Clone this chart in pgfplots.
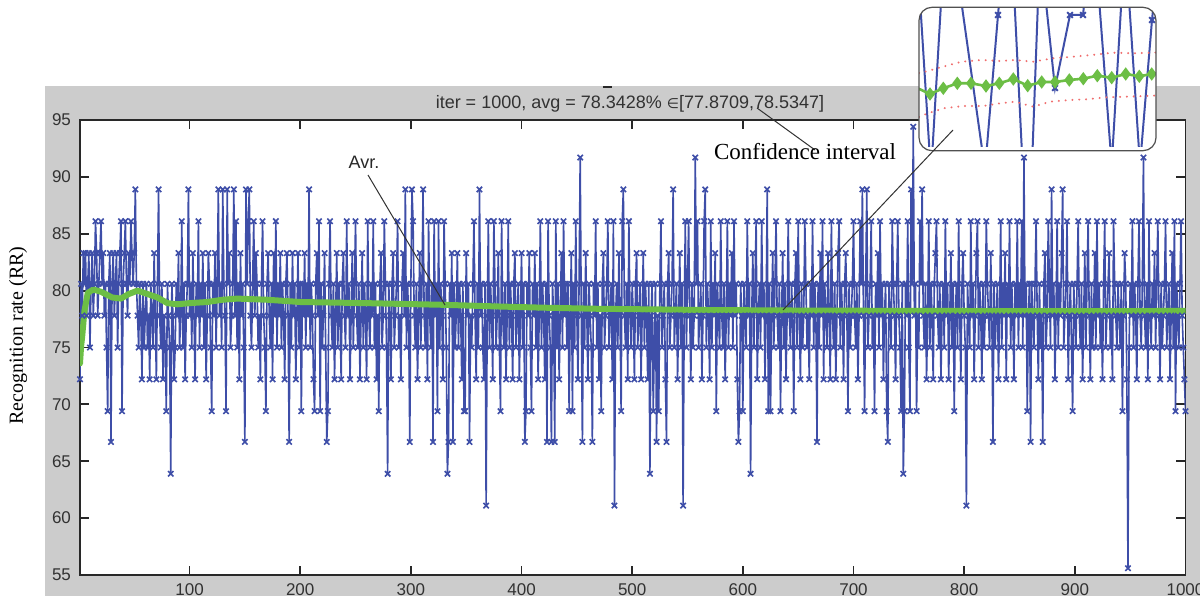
\documentclass[border=0pt]{standalone}
\usepackage{pgfplots}
\pgfplotsset{compat=1.18}
\usepackage{pgfplotstable}
\usepackage{fontspec}
\setmainfont{Liberation Sans}
\newfontfamily\timesfont{Liberation Serif}
\newfontfamily\dejavu{DejaVu Sans}
\definecolor{blueline}{RGB}{62,78,168}
\definecolor{greenline}{RGB}{108,190,69}
\definecolor{redline}{RGB}{240,110,110}
\definecolor{figgray}{RGB}{204,204,204}
\definecolor{axisgray}{RGB}{40,40,40}
\definecolor{ticktext}{RGB}{50,50,50}
\definecolor{annot}{RGB}{50,50,50}
\definecolor{insetborder}{RGB}{80,80,80}

\pgfplotstableread[row sep=\\]{
y\\
72.2\\80.6\\77.8\\83.3\\80.6\\83.3\\77.8\\80.6\\83.3\\75.0\\80.6\\83.3\\77.8\\80.6\\86.1\\83.3\\77.8\\80.6\\83.3\\86.1\\
80.6\\83.3\\77.8\\80.6\\75.0\\69.4\\80.6\\83.3\\66.7\\80.6\\83.3\\77.8\\80.6\\83.3\\75.0\\80.6\\83.3\\86.1\\69.4\\80.6\\
83.3\\86.1\\80.6\\77.8\\83.3\\80.6\\86.1\\83.3\\80.6\\83.3\\88.9\\80.6\\77.8\\75.0\\80.6\\77.8\\72.2\\80.6\\75.0\\77.8\\
80.6\\75.0\\77.8\\72.2\\80.6\\77.8\\75.0\\83.3\\77.8\\72.2\\80.6\\88.9\\77.8\\75.0\\80.6\\72.2\\77.8\\75.0\\69.4\\80.6\\
77.8\\75.0\\63.9\\80.6\\77.8\\72.2\\75.0\\80.6\\77.8\\83.3\\75.0\\77.8\\86.1\\75.0\\80.6\\72.2\\77.8\\80.6\\88.9\\77.8\\
80.6\\75.0\\83.3\\77.8\\72.2\\80.6\\77.8\\86.1\\75.0\\80.6\\77.8\\83.3\\75.0\\80.6\\72.2\\77.8\\83.3\\80.6\\75.0\\69.4\\
80.6\\77.8\\83.3\\75.0\\80.6\\88.9\\77.8\\80.6\\75.0\\88.9\\80.6\\77.8\\69.4\\88.9\\80.6\\83.3\\75.0\\77.8\\80.6\\88.9\\
77.8\\86.1\\75.0\\80.6\\72.2\\83.3\\77.8\\80.6\\75.0\\66.7\\88.9\\80.6\\86.1\\88.9\\77.8\\75.0\\80.6\\86.1\\77.8\\83.3\\
80.6\\75.0\\77.8\\72.2\\80.6\\86.1\\77.8\\75.0\\69.4\\80.6\\83.3\\77.8\\75.0\\80.6\\72.2\\83.3\\77.8\\86.1\\75.0\\80.6\\
77.8\\83.3\\75.0\\80.6\\77.8\\72.2\\80.6\\83.3\\77.8\\66.7\\80.6\\75.0\\83.3\\77.8\\80.6\\72.2\\77.8\\83.3\\75.0\\80.6\\
69.4\\80.6\\77.8\\83.3\\75.0\\80.6\\77.8\\88.9\\75.0\\80.6\\77.8\\72.2\\69.4\\80.6\\83.3\\77.8\\86.1\\69.4\\80.6\\75.0\\
77.8\\83.3\\75.0\\66.7\\69.4\\80.6\\86.1\\77.8\\75.0\\80.6\\72.2\\77.8\\83.3\\75.0\\80.6\\77.8\\72.2\\80.6\\83.3\\77.8\\
75.0\\86.1\\77.8\\80.6\\72.2\\77.8\\83.3\\75.0\\80.6\\86.1\\77.8\\75.0\\80.6\\72.2\\77.8\\83.3\\75.0\\80.6\\77.8\\72.2\\
86.1\\77.8\\75.0\\80.6\\77.8\\86.1\\75.0\\80.6\\72.2\\77.8\\69.4\\80.6\\83.3\\75.0\\77.8\\86.1\\80.6\\75.0\\63.9\\80.6\\
77.8\\72.2\\80.6\\83.3\\75.0\\77.8\\80.6\\86.1\\75.0\\77.8\\72.2\\80.6\\83.3\\77.8\\88.9\\75.0\\80.6\\77.8\\66.7\\80.6\\
88.9\\86.1\\77.8\\75.0\\80.6\\72.2\\77.8\\83.3\\75.0\\80.6\\88.9\\77.8\\75.0\\80.6\\72.2\\86.1\\77.8\\75.0\\80.6\\66.7\\
86.1\\77.8\\80.6\\69.4\\86.1\\75.0\\80.6\\77.8\\72.2\\86.1\\80.6\\75.0\\63.9\\66.7\\80.6\\77.8\\83.3\\66.7\\80.6\\75.0\\
77.8\\83.3\\75.0\\80.6\\77.8\\72.2\\80.6\\69.4\\69.4\\83.3\\77.8\\80.6\\66.7\\77.8\\75.0\\80.6\\86.1\\77.8\\72.2\\80.6\\
75.0\\88.9\\77.8\\80.6\\75.0\\72.2\\80.6\\61.1\\77.8\\86.1\\75.0\\80.6\\77.8\\72.2\\86.1\\80.6\\75.0\\77.8\\83.3\\75.0\\
69.4\\86.1\\77.8\\75.0\\80.6\\72.2\\77.8\\86.1\\75.0\\80.6\\77.8\\72.2\\80.6\\83.3\\75.0\\77.8\\80.6\\72.2\\77.8\\83.3\\
75.0\\80.6\\66.7\\69.4\\80.6\\77.8\\83.3\\75.0\\69.4\\80.6\\77.8\\83.3\\75.0\\80.6\\72.2\\77.8\\86.1\\75.0\\80.6\\77.8\\
72.2\\80.6\\66.7\\86.1\\77.8\\75.0\\66.7\\80.6\\77.8\\66.7\\86.1\\75.0\\80.6\\72.2\\77.8\\83.3\\75.0\\86.1\\77.8\\80.6\\
75.0\\80.6\\69.4\\77.8\\83.3\\69.4\\80.6\\75.0\\86.1\\77.8\\72.2\\80.6\\91.7\\77.8\\66.7\\80.6\\75.0\\83.3\\77.8\\72.2\\
80.6\\77.8\\75.0\\66.7\\80.6\\77.8\\86.1\\75.0\\80.6\\72.2\\77.8\\69.4\\80.6\\83.3\\75.0\\77.8\\80.6\\86.1\\75.0\\77.8\\
80.6\\72.2\\86.1\\61.1\\77.8\\80.6\\75.0\\83.3\\77.8\\69.4\\86.1\\88.9\\77.8\\75.0\\80.6\\72.2\\86.1\\77.8\\75.0\\80.6\\
77.8\\72.2\\80.6\\83.3\\75.0\\77.8\\80.6\\72.2\\77.8\\83.3\\75.0\\80.6\\77.8\\72.2\\80.6\\63.9\\77.8\\80.6\\69.4\\75.0\\
80.6\\66.7\\77.8\\69.4\\80.6\\86.1\\75.0\\77.8\\80.6\\72.2\\66.7\\80.6\\83.3\\75.0\\77.8\\80.6\\88.9\\75.0\\77.8\\80.6\\
72.2\\77.8\\83.3\\75.0\\80.6\\61.1\\77.8\\86.1\\75.0\\80.6\\86.1\\77.8\\72.2\\80.6\\75.0\\77.8\\91.7\\80.6\\86.1\\75.0\\
77.8\\80.6\\72.2\\77.8\\86.1\\88.9\\75.0\\80.6\\77.8\\72.2\\86.1\\75.0\\80.6\\77.8\\83.3\\69.4\\80.6\\77.8\\75.0\\86.1\\
77.8\\75.0\\80.6\\72.2\\77.8\\86.1\\75.0\\80.6\\77.8\\83.3\\75.0\\86.1\\77.8\\80.6\\72.2\\66.7\\69.4\\80.6\\77.8\\69.4\\
80.6\\77.8\\75.0\\86.1\\77.8\\80.6\\63.9\\77.8\\83.3\\75.0\\80.6\\86.1\\72.2\\77.8\\80.6\\75.0\\86.1\\77.8\\80.6\\72.2\\
77.8\\88.9\\69.4\\80.6\\69.4\\77.8\\83.3\\75.0\\80.6\\86.1\\77.8\\75.0\\80.6\\69.4\\77.8\\83.3\\75.0\\80.6\\72.2\\77.8\\
86.1\\77.8\\75.0\\80.6\\77.8\\69.4\\80.6\\83.3\\75.0\\86.1\\77.8\\72.2\\80.6\\75.0\\77.8\\86.1\\80.6\\75.0\\77.8\\72.2\\
80.6\\77.8\\86.1\\75.0\\80.6\\77.8\\66.7\\80.6\\75.0\\83.3\\77.8\\86.1\\72.2\\80.6\\77.8\\75.0\\83.3\\77.8\\72.2\\86.1\\
77.8\\75.0\\80.6\\72.2\\77.8\\83.3\\86.1\\75.0\\80.6\\77.8\\72.2\\80.6\\83.3\\77.8\\69.4\\80.6\\75.0\\77.8\\80.6\\86.1\\
77.8\\75.0\\80.6\\72.2\\77.8\\86.1\\80.6\\88.9\\77.8\\69.4\\80.6\\88.9\\75.0\\77.8\\80.6\\86.1\\75.0\\77.8\\69.4\\80.6\\
77.8\\83.3\\75.0\\86.1\\77.8\\80.6\\72.2\\77.8\\80.6\\69.4\\66.7\\80.6\\77.8\\75.0\\86.1\\80.6\\77.8\\72.2\\80.6\\86.1\\
77.8\\75.0\\69.4\\80.6\\63.9\\69.4\\80.6\\77.8\\86.1\\75.0\\69.4\\88.9\\80.6\\94.4\\77.8\\80.6\\69.4\\77.8\\75.0\\86.1\\
80.6\\88.9\\77.8\\75.0\\80.6\\72.2\\77.8\\86.1\\75.0\\80.6\\77.8\\72.2\\80.6\\83.3\\86.1\\77.8\\75.0\\80.6\\72.2\\77.8\\
80.6\\75.0\\86.1\\77.8\\80.6\\72.2\\77.8\\83.3\\75.0\\80.6\\69.4\\77.8\\80.6\\75.0\\86.1\\77.8\\72.2\\80.6\\83.3\\77.8\\
75.0\\61.1\\80.6\\77.8\\75.0\\86.1\\77.8\\80.6\\72.2\\77.8\\83.3\\86.1\\75.0\\80.6\\77.8\\72.2\\80.6\\75.0\\77.8\\86.1\\
80.6\\77.8\\75.0\\83.3\\77.8\\66.7\\80.6\\75.0\\77.8\\80.6\\72.2\\77.8\\86.1\\75.0\\80.6\\77.8\\83.3\\72.2\\80.6\\77.8\\
86.1\\75.0\\80.6\\77.8\\72.2\\80.6\\77.8\\86.1\\75.0\\80.6\\77.8\\86.1\\75.0\\91.7\\77.8\\80.6\\69.4\\77.8\\80.6\\66.7\\
80.6\\77.8\\75.0\\80.6\\86.1\\77.8\\72.2\\80.6\\75.0\\77.8\\66.7\\80.6\\83.3\\75.0\\77.8\\86.1\\80.6\\75.0\\88.9\\77.8\\
80.6\\72.2\\77.8\\86.1\\75.0\\80.6\\77.8\\83.3\\88.9\\75.0\\77.8\\80.6\\86.1\\72.2\\77.8\\80.6\\75.0\\69.4\\80.6\\77.8\\
75.0\\80.6\\86.1\\77.8\\75.0\\80.6\\72.2\\77.8\\83.3\\75.0\\80.6\\86.1\\77.8\\72.2\\80.6\\75.0\\77.8\\83.3\\75.0\\86.1\\
77.8\\80.6\\75.0\\77.8\\72.2\\80.6\\86.1\\75.0\\77.8\\80.6\\83.3\\75.0\\77.8\\72.2\\86.1\\80.6\\77.8\\75.0\\80.6\\77.8\\
75.0\\80.6\\69.4\\77.8\\83.3\\80.6\\72.2\\55.6\\75.0\\80.6\\77.8\\86.1\\75.0\\80.6\\77.8\\72.2\\80.6\\86.1\\77.8\\75.0\\
80.6\\91.7\\77.8\\75.0\\80.6\\72.2\\86.1\\77.8\\75.0\\80.6\\77.8\\83.3\\75.0\\80.6\\86.1\\77.8\\72.2\\80.6\\75.0\\77.8\\
80.6\\86.1\\75.0\\77.8\\80.6\\72.2\\77.8\\83.3\\75.0\\86.1\\69.4\\80.6\\77.8\\75.0\\80.6\\86.1\\77.8\\75.0\\72.2\\69.4\\
}\rrdata

\begin{document}
\begin{tikzpicture}[x=0.5pt,y=0.5pt]
\useasboundingbox (0,0) rectangle (1200,596);
\fill[white] (0,0) rectangle (1200,596);
\fill[figgray] (45,0) rectangle (1200,510);
\draw[line width=1pt, axisgray] (603,509) -- (612,509);
\begin{axis}[
  at={(40pt,10.5pt)}, anchor=south west, scale only axis,
  width=552.75pt, height=227.5pt,
  xmin=1, xmax=1000, ymin=55, ymax=95,
  xtick={100,200,...,1000}, ytick={55,60,...,95},
  tick align=inside, major tick length=4.6pt,
  axis line style={line width=0.9pt, axisgray},
  every tick/.style={line width=0.9pt, axisgray},
  tick label style={font=\fontsize{8.5}{9.5}\selectfont, text=ticktext},
  xticklabel style={yshift=-0.6pt},
  yticklabel style={xshift=-1pt},
  /pgf/number format/assume math mode=true,
  /pgf/number format/1000 sep={},
  axis background/.style={fill=white},
]
\addplot[blueline, line width=0.8pt, mark=x, mark size=1.9pt, mark options={solid}] table[x expr=\coordindex+1, y=y]{\rrdata};
\addplot[greenline, line width=3pt, line join=round, line cap=round] coordinates {
(1,73.6)(2,75.1)(3,76.0)(5,78.2)(8,79.8)(13,80.1)(20,79.9)(30,79.4)(38,79.3)(45,79.7)(53,80.0)(62,79.7)(71,79.4)(80,78.9)(89,78.8)(100,78.9)(116,79.0)(130,79.2)(143,79.3)(170,79.2)(200,79.0)(260,78.9)(331,78.75)(381,78.6)(420,78.5)(471,78.4)(520,78.35)(562,78.3)(650,78.25)(750,78.22)(850,78.2)(950,78.2)(1000,78.22)
};
\end{axis}
\node[font=\fontsize{9}{10}\selectfont, text=ticktext] at (630,492) {iter = 1000, avg = 78.3428\% {\dejavu\fontsize{7}{8}\selectfont ∈}[77.8709,78.5347]};
\node[font=\timesfont\fontsize{10}{12}\selectfont, rotate=90] at (18,260.5) {Recognition rate (RR)};
\node[font=\fontsize{9}{10}\selectfont, text=axisgray] at (364,434) {Avr.};
\draw[line width=0.5pt, annot] (368,421) -- (445,291);
\draw[line width=0.5pt, annot] (757,488) -- (815,446);
\node[font=\timesfont\fontsize{11.5}{13}\selectfont] at (805,444) {Confidence interval};
% inset
\fill[white, rounded corners=6.5pt] (919,445.3) rectangle (1156,588.7);
\begin{scope}
\clip[rounded corners=6.5pt] (919,445.3) rectangle (1156,588.7);
\begin{axis}[
  at={(459.5pt,224.5pt)}, anchor=south west, scale only axis,
  width=118.5pt, height=69.75pt,
  xmin=919, xmax=1156, ymin=449, ymax=588.5, hide axis,
]
\addplot[blueline, line width=1pt, mark=x, mark size=2pt] coordinates {
(915,676)(931,421)(947,696)(985,426)(998,581)(1009,706)(1028,321)(1040,650)(1055,508)(1070,581)(1083,581)(1093,676)(1111.7,431)(1125,656)(1140,431)(1152,576)(1160,656)
};
\addplot[redline, line width=1.1pt, line cap=round, dash pattern=on 0.01pt off 3.4pt] coordinates {
(919,523)(925,524.3)(943,529.3)(961.7,534.3)(981.7,536)(1000,535)(1015,536)(1033,534.3)(1053,537.7)(1073,539.3)(1091.7,541)(1113,543.3)(1133,542.7)(1151.7,543.3)(1158,543.5)
};
\addplot[redline, line width=1.1pt, line cap=round, dash pattern=on 0.01pt off 3.4pt] coordinates {
(919,479)(923.3,481)(943.3,487.7)(963.3,490)(983.3,490)(1000,492.7)(1015,494.3)(1033.3,489.3)(1050,494.3)(1070,496)(1086.7,496.7)(1106.7,498.7)(1126.7,499.3)(1151.7,500.3)(1158,500.6)
};
\addplot[greenline, line width=1.3pt, mark=diamond*, mark size=2.3pt] coordinates {
(915,509)(930,502)(943.3,507.7)(957.3,512.7)(971,512.7)(986,510)(999.3,512.7)(1013.3,517)(1027.7,510.3)(1041.7,514)(1055,514)(1069.3,516)(1083.3,517.3)(1097.3,520.3)(1111.7,518.3)(1125.7,522)(1139.3,519.7)(1151.7,522)(1158,523)
};
\end{axis}
\end{scope}
\draw[line width=0.6pt, insetborder, rounded corners=6.5pt] (919,445.3) rectangle (1156,588.7);
\draw[line width=0.5pt, annot] (953,466) -- (783,286);
\end{tikzpicture}
\end{document}
